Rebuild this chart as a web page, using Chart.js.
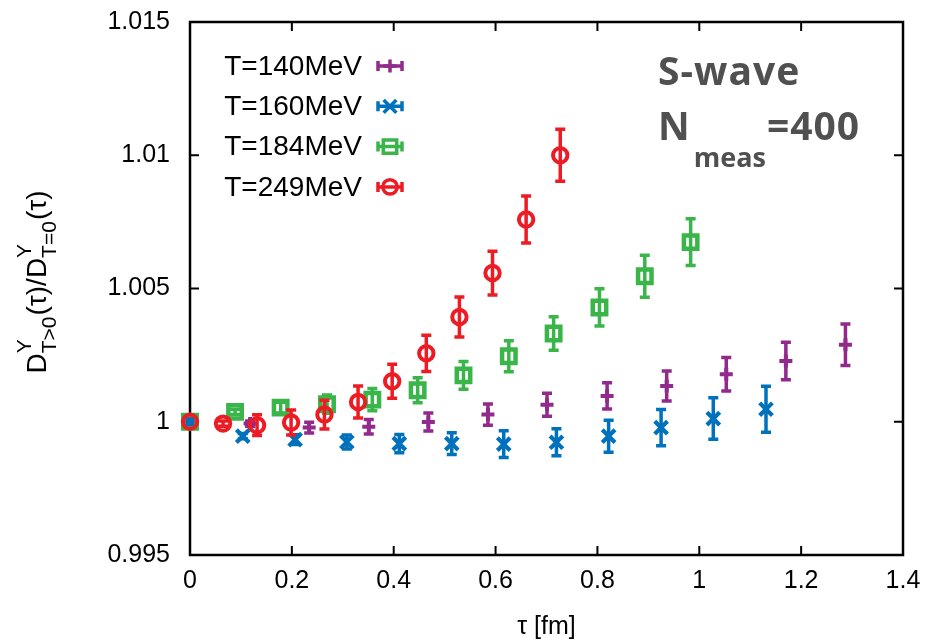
<!DOCTYPE html>
<html>
<head>
<meta charset="utf-8">
<script src="https://cdn.jsdelivr.net/npm/chart.js@4.4.0/dist/chart.umd.min.js"></script>
<style>
  html, body { margin: 0; padding: 0; background: #fff; }
</style>
</head>
<body>
<canvas id="grafico" width="929" height="641"></canvas>
<script>
// tau [fm] and ratio D(T>0)/D(T=0) with statistical errors, one set per temperature
const tau140 = [0, 0.118, 0.234, 0.351, 0.468, 0.585, 0.701, 0.819, 0.936, 1.053, 1.170, 1.287];
const ratio140 = [1.0, 0.99993, 0.99978, 0.99981, 0.99999, 1.00027, 1.00064, 1.00097, 1.00134, 1.00178, 1.00228, 1.00289];
const err140 = [0, 0.0001, 0.0002, 0.00027, 0.00034, 0.0004, 0.00043, 0.00049, 0.00056, 0.00063, 0.0007, 0.00078];

const tau160 = [0, 0.1036, 0.2064, 0.308, 0.411, 0.514, 0.616, 0.7195, 0.822, 0.925, 1.0275, 1.131];
const ratio160 = [1.0, 0.99946, 0.99933, 0.99924, 0.99918, 0.99918, 0.99916, 0.99923, 0.99946, 0.99978, 1.00012, 1.00047];
const err160 = [0, 0.0001, 0.00018, 0.00026, 0.00034, 0.00041, 0.0005, 0.00051, 0.0006, 0.00068, 0.00078, 0.00086];

const tau184 = [0, 0.0885, 0.178, 0.269, 0.358, 0.447, 0.537, 0.626, 0.714, 0.804, 0.893, 0.983];
const ratio184 = [1.0, 1.00037, 1.00053, 1.00066, 1.00083, 1.00118, 1.00174, 1.00246, 1.00331, 1.00429, 1.00546, 1.00674];
const err184 = [0, 0.0001, 0.0002, 0.00034, 0.00042, 0.00047, 0.00052, 0.00058, 0.00063, 0.0007, 0.00079, 0.00088];

const tau249 = [0, 0.0649, 0.1317, 0.1985, 0.264, 0.330, 0.397, 0.464, 0.529, 0.594, 0.660, 0.727];
const ratio249 = [1.0, 0.99993, 0.99987, 0.99997, 1.00027, 1.00074, 1.00152, 1.00257, 1.00393, 1.00558, 1.00759, 1.0100];
const err249 = [0, 0.0001, 0.00039, 0.00047, 0.00054, 0.0006, 0.00064, 0.00068, 0.00075, 0.00082, 0.00088, 0.00098];

const seriesLabels = ['T=140MeV', 'T=160MeV', 'T=184MeV', 'T=249MeV'];
const xTickLabels = ['0', '0.2', '0.4', '0.6', '0.8', '1', '1.2', '1.4'];
const yTickLabels = ['0.995', '1', '1.005', '1.01', '1.015'];

const FONT = 'Liberation Sans, Arial, sans-serif';

function pontos(xs, ys) {
  return xs.map((x, i) => ({ x: x, y: ys[i] }));
}

function serie(label, xs, ys, errs, cor, estilo, raio, largura, ordem) {
  return {
    label: label,
    data: pontos(xs, ys),
    errors: errs,
    borderColor: cor,
    backgroundColor: 'rgba(0,0,0,0)',
    pointStyle: estilo,
    pointRadius: raio,
    pointBorderWidth: largura,
    order: ordem,
    clip: false
  };
}

// vertical error bars with caps, drawn right before each dataset's points
const barrasErro = {
  id: 'barrasErro',
  beforeDatasetDraw(chart, args) {
    const ds = chart.data.datasets[args.index];
    const ys = chart.scales.y;
    const ctx = chart.ctx;
    ctx.save();
    ctx.strokeStyle = ds.borderColor;
    ctx.lineWidth = 3.5;
    args.meta.data.forEach((pt, i) => {
      const e = ds.errors[i];
      if (!e) return;
      const v = ds.data[i].y;
      const topo = ys.getPixelForValue(v + e);
      const base = ys.getPixelForValue(v - e);
      ctx.beginPath();
      ctx.moveTo(pt.x, topo);
      ctx.lineTo(pt.x, base);
      ctx.moveTo(pt.x - 5, topo);
      ctx.lineTo(pt.x + 5, topo);
      ctx.moveTo(pt.x - 5, base);
      ctx.lineTo(pt.x + 5, base);
      ctx.stroke();
    });
    ctx.restore();
  }
};

// border with inward ticks on all four sides
const moldura = {
  id: 'moldura',
  beforeDatasetsDraw(chart) {
    const { ctx, chartArea: a, scales } = chart;
    ctx.save();
    ctx.strokeStyle = '#000';
    ctx.lineWidth = 2;
    ctx.beginPath();
    scales.x.ticks.forEach(t => {
      const px = scales.x.getPixelForValue(t.value);
      ctx.moveTo(px, a.bottom); ctx.lineTo(px, a.bottom - 9);
      ctx.moveTo(px, a.top); ctx.lineTo(px, a.top + 9);
    });
    scales.y.ticks.forEach(t => {
      const py = scales.y.getPixelForValue(t.value);
      ctx.moveTo(a.left, py); ctx.lineTo(a.left + 9, py);
      ctx.moveTo(a.right, py); ctx.lineTo(a.right - 9, py);
    });
    ctx.stroke();
    ctx.lineWidth = 2.5;
    ctx.strokeRect(a.left, a.top, a.right - a.left, a.bottom - a.top);
    ctx.restore();
  }
};

// key, rotated y title and the S-wave note
const textos = {
  id: 'textos',
  afterDraw(chart) {
    const ctx = chart.ctx;
    const dsets = chart.data.datasets;
    ctx.save();

    // key: text right-aligned, sample with horizontal error bar
    ctx.font = '28px ' + FONT;
    ctx.textAlign = 'right';
    ctx.textBaseline = 'middle';
    seriesLabels.forEach((lab, i) => {
      const ds = dsets[i];
      const y = 66 + 40.3 * i;
      ctx.fillStyle = '#000';
      ctx.fillText(lab, 362, y + 1);
      ctx.strokeStyle = ds.borderColor;
      ctx.fillStyle = 'rgba(0,0,0,0)';
      ctx.lineWidth = 3.5;
      ctx.beginPath();
      ctx.moveTo(377, y); ctx.lineTo(403, y);
      ctx.moveTo(378, y - 5); ctx.lineTo(378, y + 5);
      ctx.moveTo(402, y - 5); ctx.lineTo(402, y + 5);
      ctx.stroke();
      Chart.helpers.drawPoint(ctx, {
        pointStyle: ds.pointStyle,
        radius: ds.pointRadius,
        borderWidth: ds.pointBorderWidth,
        rotation: 0
      }, 390, y);
    });

    // y title with super/subscripts, rotated
    const grande = 28, pequeno = 21;
    const partes = [
      { t: 'D' }, { sup: 'Y', sub: 'T>0' }, { t: '(τ)/D' }, { sup: 'Y', sub: 'T=0' }, { t: '(τ)' }
    ];
    let total = 0;
    partes.forEach(p => {
      if (p.t) {
        ctx.font = grande + 'px ' + FONT;
        p.w = ctx.measureText(p.t).width;
      } else {
        ctx.font = pequeno + 'px ' + FONT;
        p.w = Math.max(ctx.measureText(p.sup).width, ctx.measureText(p.sub).width) + 1;
      }
      total += p.w;
    });
    ctx.translate(46, 282);
    ctx.rotate(-Math.PI / 2);
    ctx.textAlign = 'left';
    ctx.textBaseline = 'alphabetic';
    ctx.fillStyle = '#000';
    let cx = -total / 2;
    partes.forEach(p => {
      if (p.t) {
        ctx.font = grande + 'px ' + FONT;
        ctx.fillText(p.t, cx, 0);
      } else {
        ctx.font = pequeno + 'px ' + FONT;
        ctx.fillText(p.sup, cx, -15);
        ctx.fillText(p.sub, cx, 10);
      }
      cx += p.w;
    });
    ctx.setTransform(1, 0, 0, 1, 0, 0);

    // note in the upper right
    ctx.fillStyle = '#505050';
    ctx.textAlign = 'left';
    ctx.letterSpacing = '1px';
    ctx.font = 'bold 39px Open Sans, sans-serif';
    ctx.fillText('S-wave', 658, 85);
    ctx.fillText('N', 658, 140);
    const wN = ctx.measureText('N').width;
    ctx.letterSpacing = '0px';
    ctx.font = 'bold 27px Open Sans, sans-serif';
    ctx.fillText('meas', 658 + wN + 3, 167);
    const wM = ctx.measureText('meas').width;
    ctx.letterSpacing = '1px';
    ctx.font = 'bold 39px Open Sans, sans-serif';
    ctx.fillText('=400', 658 + wN + 3 + wM + 1, 140);
    ctx.restore();
  }
};

new Chart(document.getElementById('grafico'), {
  type: 'scatter',
  data: {
    datasets: [
      serie(seriesLabels[0], tau140, ratio140, err140, '#912A8C', 'cross', 6.5, 4, 4),
      serie(seriesLabels[1], tau160, ratio160, err160, '#0071BC', 'crossRot', 9, 4.2, 3),
      serie(seriesLabels[2], tau184, ratio184, err184, '#39B54A', 'rect', 9.5, 4.5, 2),
      serie(seriesLabels[3], tau249, ratio249, err249, '#ED1C24', 'circle', 7.2, 4, 1)
    ]
  },
  options: {
    responsive: false,
    animation: false,
    events: [],
    layout: { padding: { top: 22, right: 26, left: 0, bottom: 0 } },
    plugins: {
      legend: { display: false },
      tooltip: { enabled: false }
    },
    scales: {
      x: {
        type: 'linear',
        min: 0,
        max: 1.4,
        afterFit: s => { s.height = 86; s.paddingLeft = 0; s.paddingRight = 0; },
        border: { display: false },
        grid: { display: false, drawTicks: false },
        ticks: {
          stepSize: 0.2,
          padding: 11,
          maxRotation: 0,
          color: '#000',
          font: { family: FONT, size: 25 },
          callback: (v, i) => xTickLabels[i]
        },
        title: {
          display: true,
          text: 'τ [fm]',
          color: '#000',
          font: { family: FONT, size: 25 },
          padding: { top: 0, bottom: -1 }
        }
      },
      y: {
        type: 'linear',
        min: 0.995,
        max: 1.015,
        afterFit: s => { s.width = 190; s.paddingTop = 0; s.paddingBottom = 0; },
        border: { display: false },
        grid: { display: false, drawTicks: false },
        ticks: {
          stepSize: 0.005,
          padding: 20,
          color: '#000',
          font: { family: FONT, size: 25 },
          callback: (v, i) => yTickLabels[i]
        }
      }
    }
  },
  plugins: [moldura, barrasErro, textos]
});
</script>
</body>
</html>
